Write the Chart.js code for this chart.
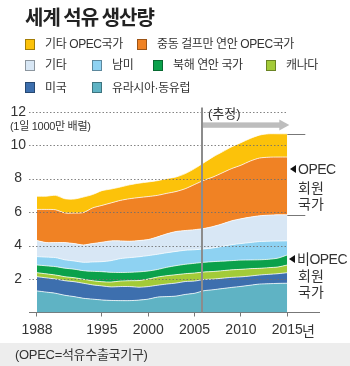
<!DOCTYPE html>
<html><head><meta charset="utf-8">
<script src="https://cdn.jsdelivr.net/npm/chart.js@4"></script>
<style>
html,body{margin:0;padding:0;background:#fff;}
#wrap{position:relative;width:350px;height:366px;overflow:hidden;font-family:"Liberation Sans","Noto Sans CJK KR",sans-serif;color:#333;background:#fff;}
#c{position:absolute;left:0;top:0;}
.t{position:absolute;white-space:nowrap;}
.box{position:absolute;width:10px;height:11px;box-sizing:border-box;border:1px solid rgba(0,0,0,0.35);}
.tri{position:absolute;width:0;height:0;border-top:4px solid transparent;border-bottom:4px solid transparent;border-right:6px solid #111;}
#foot{position:absolute;left:0;top:343px;width:350px;height:23px;background:#ededed;}
</style></head>
<body><div id="wrap">
<div id="foot"></div>
<canvas id="c" width="350" height="366" style="width:350px;height:366px"></canvas>
<div class="t" style="left:25px;top:5px;font-size:20px;line-height:24px;font-weight:bold;letter-spacing:-1px;color:#222;font-family:'Noto Sans CJK KR',sans-serif;">세계 석유 생산량</div>
<div id="legend"></div>
<div class="t" style="left:10px;top:119px;font-size:11px;line-height:14px;letter-spacing:-0.3px;">(1일 1000만 배럴)</div>
<div class="t" style="left:208px;top:106px;font-size:13px;line-height:15px;">(추정)</div>
<div class="tri" style="left:290px;top:165px;"></div>
<div class="t" style="left:298px;top:161px;font-size:14px;line-height:16px;letter-spacing:-0.5px;">OPEC</div>
<div class="t" style="left:298px;top:180px;font-size:14px;line-height:16px;">회원</div>
<div class="t" style="left:298px;top:196px;font-size:14px;line-height:16px;">국가</div>
<div class="tri" style="left:289px;top:255px;"></div>
<div class="t" style="left:297px;top:251px;font-size:14px;line-height:16px;letter-spacing:-0.5px;">비OPEC</div>
<div class="t" style="left:298px;top:268px;font-size:14px;line-height:16px;">회원</div>
<div class="t" style="left:298px;top:284px;font-size:14px;line-height:16px;">국가</div>
<div class="t" style="left:302px;top:323px;font-size:14px;line-height:16px;">년</div>
<div class="t" style="left:15px;top:347px;font-size:13px;line-height:16px;letter-spacing:-0.3px;">(OPEC=석유수출국기구)</div>
</div>
<script>
// ---- data (unit: 10 million barrels per day) ----
const years = [1988,1989,1990,1991,1992,1993,1994,1995,1996,1997,1998,1999,2000,2001,2002,2003,2004,2005,2006,2007,2008,2009,2010,2011,2012,2013,2014,2015];
const eurasia      = [1.29,1.22,1.15,1.03,0.95,0.85,0.80,0.75,0.72,0.71,0.71,0.74,0.80,0.92,0.95,0.98,1.08,1.15,1.30,1.36,1.43,1.50,1.56,1.63,1.70,1.72,1.74,1.75];
const usa          = [0.85,0.85,0.85,0.87,0.89,0.90,0.85,0.84,0.81,0.84,0.84,0.77,0.75,0.71,0.75,0.78,0.77,0.73,0.67,0.64,0.62,0.60,0.57,0.55,0.54,0.56,0.58,0.63];
const canada       = [0.24,0.24,0.24,0.24,0.24,0.24,0.25,0.25,0.29,0.33,0.35,0.40,0.45,0.49,0.50,0.50,0.47,0.48,0.45,0.45,0.45,0.45,0.45,0.44,0.40,0.40,0.40,0.46];
const northSea     = [0.46,0.48,0.50,0.51,0.51,0.51,0.56,0.60,0.58,0.51,0.50,0.52,0.48,0.45,0.50,0.54,0.56,0.58,0.58,0.59,0.57,0.55,0.55,0.52,0.51,0.50,0.53,0.60];
const southAmerica = [0.50,0.52,0.54,0.50,0.49,0.50,0.56,0.60,0.70,0.83,0.88,0.90,0.92,0.91,0.87,0.85,0.84,0.81,0.80,0.82,0.88,0.95,0.99,1.04,1.09,1.08,1.02,0.84];
const others       = [0.96,0.87,0.90,1.03,1.04,1.04,1.10,1.16,1.18,1.06,0.98,0.97,0.96,1.04,1.13,1.19,1.18,1.20,1.22,1.28,1.35,1.43,1.48,1.52,1.54,1.56,1.57,1.56];
const opecGulf     = [1.86,1.98,1.96,1.77,1.82,1.93,2.13,2.20,2.27,2.42,2.54,2.57,2.57,2.48,2.42,2.39,2.50,2.70,2.88,2.96,3.05,3.12,3.20,3.35,3.45,3.46,3.45,3.45];
const opecOther    = [0.79,0.79,0.86,0.85,0.84,0.93,0.80,0.88,0.83,0.80,0.83,0.86,0.87,0.88,0.88,0.87,0.90,0.95,1.05,1.20,1.25,1.30,1.35,1.35,1.37,1.40,1.39,1.39];

const seriesNames = ['유라시아·동유럽','미국','캐나다','북해 연안 국가','남미','기타','중동 걸프만 연안 OPEC국가','기타 OPEC국가'];
const seriesValues = [eurasia, usa, canada, northSea, southAmerica, others, opecGulf, opecOther];
const xTickLabels = [1988,1995,2000,2005,2010,2015];
const yTickLabels = [2,4,6,8,10,12];
const projectionStart = 2005.8;
const opecTop = 10.68, opecBottom = 5.84;

// ---- styles ----
const seriesColors = ['#5fb3c4','#3d6fae','#a3cb38','#0ba14b','#8ed2f2','#d8e7f5','#f08224','#fcc20a'];

// legend (HTML)
const legendLayout = [
  [7,25,44],[6,137,44],
  [5,25,65],[4,92,65],[3,153,65],[2,266,65],
  [1,25,87.5],[0,92,87.5]
];
const lg = document.getElementById('legend');
legendLayout.forEach(([i,x,cy])=>{
  const b=document.createElement('div'); b.className='box';
  b.style.left=x+'px'; b.style.top=(cy-5.5)+'px'; b.style.background=seriesColors[i]; lg.appendChild(b);
  const t=document.createElement('div'); t.className='t';
  t.style.cssText='left:'+(x+20)+'px;top:'+(cy-7)+'px;font-size:12px;line-height:14px;letter-spacing:-0.4px;';
  t.textContent=seriesNames[i]; lg.appendChild(t);
});

const overlay = {
  id:'overlay',
  afterDatasetsDraw(chart){
    const {ctx, scales:{x,y}, chartArea:ca} = chart;
    ctx.save();
    // dotted grid lines
    ctx.strokeStyle='rgba(110,110,110,0.85)'; ctx.lineWidth=1; ctx.setLineDash([1.5,2]);
    yTickLabels.forEach(v=>{
      const py=Math.round(y.getPixelForValue(v))+0.5;
      ctx.beginPath(); ctx.moveTo(ca.left,py); ctx.lineTo(ca.right,py); ctx.stroke();
    });
    ctx.setLineDash([]);
    // projection line
    const px=x.getPixelForValue(projectionStart);
    ctx.strokeStyle='#8c8c8c'; ctx.lineWidth=2;
    ctx.beginPath(); ctx.moveTo(px,y.getPixelForValue(12.25)); ctx.lineTo(px,y.getPixelForValue(0)); ctx.stroke();
    // arrow
    const ay=y.getPixelForValue(11.2), ax2=x.getPixelForValue(2015)+2;
    ctx.fillStyle='#bdbdbd';
    ctx.fillRect(px+1, ay-2.7, ax2-9-(px+1), 5.4);
    ctx.beginPath(); ctx.moveTo(ax2-10,ay-5.5); ctx.lineTo(ax2,ay); ctx.lineTo(ax2-10,ay+5.5); ctx.closePath(); ctx.fill();
    // brackets
    const bx=x.getPixelForValue(2015);
    ctx.strokeStyle='#777'; ctx.lineWidth=1;
    [opecTop,opecBottom].forEach(v=>{
      const py=Math.round(y.getPixelForValue(v))+0.5;
      ctx.beginPath(); ctx.moveTo(bx,py); ctx.lineTo(bx+18,py); ctx.stroke();
    });
    // axis line extension
    const by=y.getPixelForValue(0);
    ctx.beginPath(); ctx.moveTo(ca.right,by); ctx.lineTo(320,by); ctx.stroke();
    ctx.restore();
  }
};

new Chart(document.getElementById('c'), {
  type:'line',
  data:{datasets: seriesValues.map((s,i)=>({
    label: seriesNames[i],
    data: years.map((yr,j)=>({x:yr,y:s[j]})),
    backgroundColor: seriesColors[i],
    borderColor:'rgba(255,255,255,0.75)',
    borderWidth:1,
    fill: i===0 ? 'origin' : '-1',
    pointRadius:0,
    tension:0.25
  }))},
  options:{
    responsive:false, animation:false, devicePixelRatio:1,
    layout:{padding:{top:111.7,right:350-287.3,left:0,bottom:0}},
    plugins:{legend:{display:false},tooltip:{enabled:false}},
    scales:{
      x:{type:'linear',min:1987.14,max:2015,
        afterBuildTicks:s=>{s.ticks=xTickLabels.map(v=>({value:v}));},
        ticks:{callback:v=>String(v),font:{family:'Liberation Sans',size:14},color:'#333',padding:5,maxRotation:0,autoSkip:false},
        grid:{drawOnChartArea:false,drawTicks:true,tickLength:4,color:'#777'},
        border:{display:true,color:'#777',width:1},
        afterFit:s=>{s.height=366-312.5;}
      },
      y:{stacked:true,min:0,max:12,
        afterBuildTicks:s=>{s.ticks=[0].concat(yTickLabels).map(v=>({value:v}));},
        ticks:{callback:v=>v===0?'':String(v),crossAlign:'center',padding:3,font:{family:'Liberation Sans',size:14},color:'#333'},
        grid:{display:false,drawTicks:false},
        border:{display:false},
        afterFit:s=>{s.width=29;}
      }
    }
  },
  plugins:[overlay]
});
</script>
</body></html>
